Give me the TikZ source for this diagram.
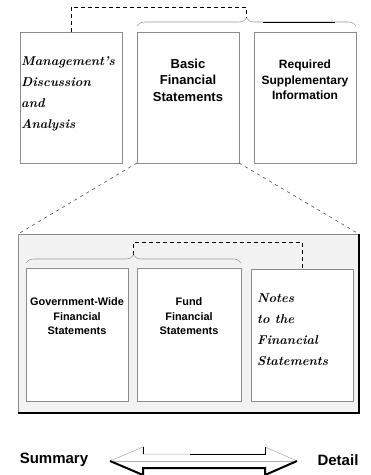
\documentclass[tikz,border=0pt]{standalone}
\usepackage{fontspec}
\newfontfamily\sansf{Liberation Sans}
\usetikzlibrary{decorations.pathreplacing}
\begin{document}
\begin{tikzpicture}[x=1pt,y=-1pt,
  box/.style={draw=gray!90, line width=0.8pt, fill=white, inner sep=0pt, outer sep=0pt},
  sanstxt/.style={font=\sansf\bfseries, align=center, inner sep=0pt},
  scripttxt/.style={font=\fontsize{12.8}{21}\selectfont\bfseries\itshape, align=left, inner sep=0pt, anchor=west},
  dashline/.style={draw=black, line width=0.8pt, dash pattern=on 4pt off 3pt},
  diagline/.style={draw=gray!60!black, line width=0.6pt, dash pattern=on 3pt off 4pt},
  bracestyle/.style={draw=gray!80, line width=0.6pt, decorate, decoration={brace, amplitude=8pt}}]
\useasboundingbox (0,0) rectangle (371,475);

% top row
\node[box, minimum width=102pt, minimum height=131pt] (mda) at (71,97.5) {};
\node[box, minimum width=102pt, minimum height=131pt] (basic) at (188,97.5) {};
\node[box, minimum width=102pt, minimum height=131pt] (rsi) at (305,97.5) {};

\node[scripttxt] (mdatxt) at (21,93.5) {Management's\\Discussion\\and\\Analysis};
\node[sanstxt, font=\sansf\bfseries\fontsize{13}{16.5}\selectfont] (basictxt) at (188,80) {Basic\\Financial\\Statements};
\node[sanstxt, font=\sansf\bfseries\fontsize{12}{15.5}\selectfont] (rsitxt) at (305,80) {Required\\Supplementary\\Information};

% top brace and connector
\draw[bracestyle] (137,26) -- (356,26);
\draw[line width=1pt] (263,22) -- (335,22);
\coordinate (tip1) at (246.5,18);
\draw[dashline] (mda.north) -- ++(0,-25) -| (tip1);

% lower panel
\node[box, fill=gray!10, minimum width=341pt, minimum height=179pt] (panel) at (188.5,323.5) {};
\draw[line width=1.2pt] (panel.north east) -- (panel.south east) -- (panel.south west);

\draw[diagline] (basic.south west) -- (panel.north west);
\draw[diagline] (basic.south east) -- (panel.north east);

\node[box, minimum width=102pt, minimum height=133pt] (gov) at (77,334.5) {};
\node[box, minimum width=104pt, minimum height=133pt] (fund) at (189,334.5) {};
\node[box, minimum width=102pt, minimum height=132pt] (notes) at (302,335) {};

\node[sanstxt, font=\sansf\bfseries\fontsize{10.9}{14.5}\selectfont] (govtxt) at (77,316.5) {Government-Wide\\Financial\\Statements};
\node[sanstxt, font=\sansf\bfseries\fontsize{10.9}{14.5}\selectfont] (fundtxt) at (189,316.5) {Fund\\Financial\\Statements};
\node[scripttxt] (notestxt) at (257,329.5) {Notes\\to the\\Financial\\Statements};

% lower brace and connector
\draw[bracestyle] (26,263) -- (241,263);
\coordinate (tip2) at (133.5,255);
\draw[dashline] (tip2) -- ++(0,-13) -| (notes.north);

% summary / detail arrow
\node[sanstxt, font=\sansf\bfseries\fontsize{15}{18}\selectfont] (summary) at (54,460) {Summary};
\node[sanstxt, font=\sansf\bfseries\fontsize{15}{18}\selectfont] (detail) at (338,460) {Detail};

\coordinate (lt) at (110,461);
\coordinate (rt) at (297,461);
\draw[draw=gray!70, fill=white, line width=0.5pt]
  (lt) -- (143,447) -- (143,454) -- (265,454) -- (265,447) -- (rt)
  -- (265,475) -- (265,468) -- (143,468) -- (143,475) -- cycle;
\draw[gray!60, line width=0.5pt] (114,461) -- (293,461);
\draw[black, line width=2pt, line join=miter] (lt) -- (143,475) -- (143,468) -- (265,468) -- (265,475) -- (rt);
\draw[black, line width=1pt] (190,454) -- (265,454) -- (265,447);
\draw[black, line width=1pt] (143,447) -- (143,454);
\end{tikzpicture}
\end{document}
